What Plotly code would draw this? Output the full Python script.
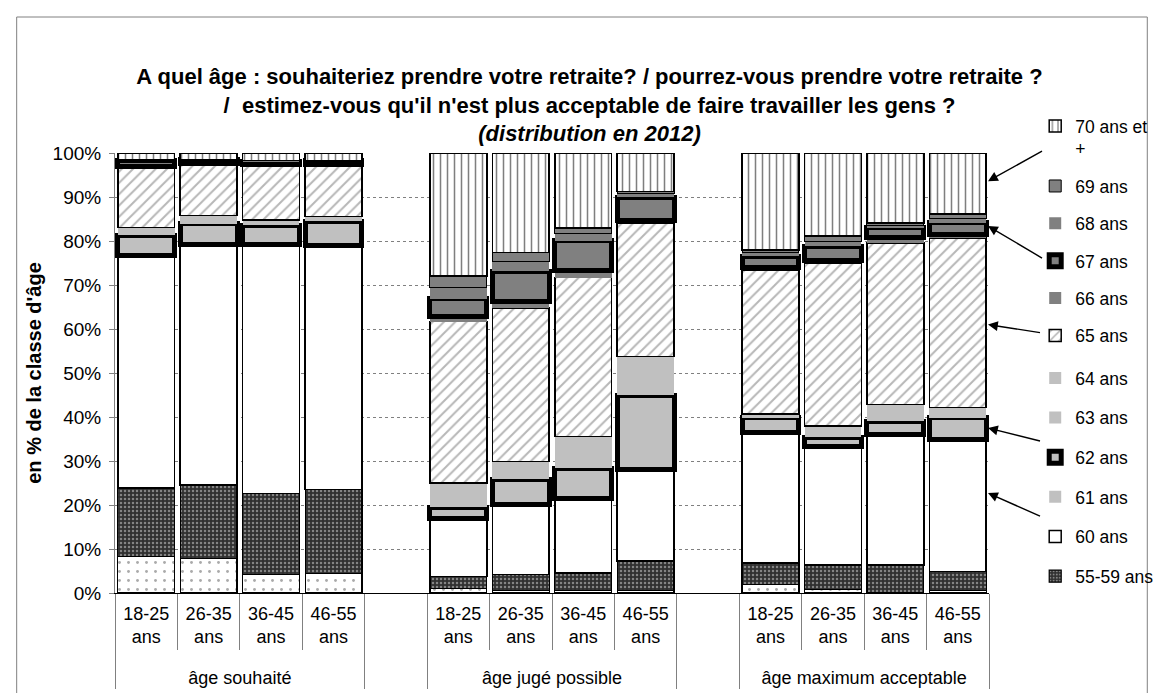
import plotly.graph_objects as go

# ---------------- data (percent of each age class) ----------------
groups = ["âge souhaité", "âge jugé possible", "âge maximum acceptable"]
ages = ["18-25<br>ans", "26-35<br>ans", "36-45<br>ans", "46-55<br>ans"]

# 12 bars: 4 age classes x 3 groups
moins_55 = [8.3, 7.8, 4.2, 4.5, 1.0, 0.5, 0.5, 0.5, 2.0, 0.8, 0.2, 0.5]
a55_59 = [15.6, 16.8, 18.4, 19.0, 2.8, 3.7, 4.0, 6.8, 4.8, 5.6, 6.2, 4.4]
a60 = [52.8, 54.6, 56.7, 55.5, 13.2, 16.0, 16.9, 20.7, 29.7, 26.9, 29.6, 29.9]
a61 = [0, 0, 0, 0, 0, 0, 0, 0, 0, 0, 0, 0]
a62 = [4.6, 4.7, 4.3, 5.5, 2.5, 5.6, 7.0, 16.9, 3.3, 2.1, 3.0, 5.0]
a63 = [1.0, 1.0, 0.6, 0.6, 2.5, 2.0, 3.8, 4.5, 0.5, 1.3, 2.0, 1.2]
a64 = [0.8, 0.9, 0.6, 0.5, 3.0, 2.1, 3.4, 4.4, 0.4, 1.2, 1.8, 1.2]
a65 = [13.6, 11.7, 12.5, 11.7, 36.7, 34.9, 36.1, 30.3, 32.6, 37.1, 36.7, 38.5]
a66 = [0.3, 0.2, 0.2, 0.2, 1.2, 1.5, 1.6, 0.5, 0.6, 0.5, 1.2, 0.7]
a67 = [1.2, 0.8, 0.6, 0.8, 4.0, 6.8, 6.8, 5.4, 2.6, 3.3, 2.3, 2.7]
a68 = [0.2, 0.0, 0.1, 0.0, 2.5, 2.2, 1.5, 0.7, 0.8, 1.2, 0.6, 1.0]
a69 = [0.1, 0.0, 0.1, 0.0, 2.6, 2.1, 1.4, 0.6, 0.7, 1.1, 0.5, 1.0]
a70 = [1.5, 1.5, 1.7, 1.7, 28.0, 22.6, 17.0, 8.7, 22.0, 18.9, 15.9, 13.9]

series_names = ["moins de 55 ans", "55-59 ans", "60 ans", "61 ans", "62 ans", "63 ans",
                "64 ans", "65 ans", "66 ans", "67 ans", "68 ans", "69 ans", "70 ans et<br>+"]
series_values = [moins_55, a55_59, a60, a61, a62, a63, a64, a65, a66, a67, a68, a69, a70]

title_lines = ["A quel âge : souhaiteriez prendre votre retraite? / pourrez-vous prendre votre retraite ?",
               "/  estimez-vous qu'il n'est plus acceptable de faire travailler les gens ?",
               "(distribution en 2012)"]
y_title = "en % de la classe d'âge"

# ---------------- styles ----------------
FONT = "Liberation Sans, Arial, sans-serif"
LG = "#C0C0C0"
DG = "#808080"
styles = {
    "moins de 55 ans": dict(color="white", pattern=dict(shape=".", fgcolor="#555555", bgcolor="white", size=9, solidity=0.08), lw=1.2, show=False, leg="legend2"),
    "55-59 ans": dict(color="#303030", pattern=dict(shape=".", fgcolor="#d8d8d8", bgcolor="#303030", size=4, solidity=0.3), lw=1.2, show=True, leg="legend2"),
    "60 ans": dict(color="white", pattern=None, lw=1.5, show=True, leg="legend2"),
    "61 ans": dict(color=LG, pattern=None, lw=0, show=True, leg="legend2"),
    "62 ans": dict(color=LG, pattern=None, lw=5, show=True, leg="legend2"),
    "63 ans": dict(color=LG, pattern=None, lw=0, show=True, leg="legend2"),
    "64 ans": dict(color=LG, pattern=None, lw=0, show=True, leg="legend2"),
    "65 ans": dict(color="white", pattern=dict(shape="/", fgcolor="#707070", bgcolor="white", size=8, solidity=0.25), lw=1.5, show=True, leg="legend"),
    "66 ans": dict(color=DG, pattern=None, lw=0, show=True, leg="legend"),
    "67 ans": dict(color=DG, pattern=None, lw=5, show=True, leg="legend"),
    "68 ans": dict(color=DG, pattern=None, lw=0, show=True, leg="legend"),
    "69 ans": dict(color=DG, pattern=None, lw=1, show=True, leg="legend"),
    "70 ans et<br>+": dict(color="white", pattern=dict(shape="|", fgcolor="black", bgcolor="white", size=7, solidity=0.22), lw=1.5, show=True, leg="legend"),
}

# multicategory x with an empty slot between groups
xg, xc = [], []
for gi, g in enumerate(groups):
    if gi > 0:
        xg.append(" " * gi)
        xc.append(" ")
    xg += [g] * len(ages)
    xc += [a + "<br> " for a in ages]


def expand(vals):
    out = []
    n = len(ages)
    for gi in range(len(groups)):
        if gi > 0:
            out.append(None)
        out += vals[gi * n:(gi + 1) * n]
    return out


fig = go.Figure()
for i, (name, vals) in enumerate(zip(series_names, series_values)):
    st = styles[name]
    marker = dict(color=st["color"],
                  line=dict(color="black", width=st["lw"]))
    if st["pattern"] is not None:
        marker["pattern"] = st["pattern"]
    fig.add_trace(go.Bar(
        x=[xg, xc], y=expand(vals), name=name, marker=marker,
        showlegend=st["show"], legend=st["leg"],
        legendgroup="g%d" % i, legendrank=1000 - i,
        hovertemplate="%{y:.1f}%<extra>" + name.replace("<br>", " ") + "</extra>",
    ))

# geometry of the plot area in pixels (for paper-coordinate decorations)
W, H = 1163, 693
L, R, T, B = 107, 167, 145, 108
pw, ph = W - L - R, H - T - B


def px(xp):
    return (xp - L) / pw


def py(yp):
    return (H - B - yp) / ph


legend_common = dict(x=px(1043), xanchor="left", yanchor="top",
                     traceorder="grouped", valign="top",
                     font=dict(family=FONT, size=17.5), bgcolor="rgba(0,0,0,0)")

fig.update_layout(
    width=W, height=H,
    margin=dict(l=L, r=R, t=T, b=B),
    paper_bgcolor="white", plot_bgcolor="white",
    barmode="stack", bargap=0.09,
    font=dict(family=FONT, size=18, color="black"),
    title=dict(
        text="<b>" + title_lines[0] + "<br>" + title_lines[1] + "<br><i>" + title_lines[2] + "</i></b>",
        x=0.5, xanchor="center", y=1 - 76 / H, yanchor="top",
        font=dict(family=FONT, size=22, color="black"),
    ),
    legend=dict(y=py(100), tracegroupgap=11.6, **legend_common),
    legend2=dict(y=py(352), tracegroupgap=13.9, **legend_common),
    showlegend=True,
)

fig.update_yaxes(
    range=[0, 100], dtick=10, ticksuffix="%",
    showgrid=True, gridcolor="#808080", griddash="dot", gridwidth=1,
    showline=True, linecolor="#808080", linewidth=1,
    ticks="outside", ticklen=5, tickcolor="#808080",
    tickfont=dict(family=FONT, size=19), ticklabelstandoff=4,
    title=dict(text="<b>" + y_title + "</b>", font=dict(family=FONT, size=20), standoff=5),
    zeroline=False,
)
fig.update_xaxes(
    type="multicategory",
    showline=True, linecolor="black", linewidth=1,
    ticks="outside", ticklen=56, tickcolor="#808080",
    showdividers=True, dividercolor="#808080", dividerwidth=1,
    tickfont=dict(family=FONT, size=18), ticklabelstandoff=4,
)

# arrows from the legend to the last bar
arrows = [(93.6, 54, -30), (83.4, 54, 32), (61.0, 52, 8), (37.5, 52, 13), (22.7, 52, 23)]
for yv, axp, ayp in arrows:
    fig.add_annotation(x=px(995), xref="paper", y=yv, yref="y", ax=axp, ay=ayp,
                       axref="pixel", ayref="pixel", showarrow=True, text="",
                       arrowhead=2, arrowsize=1.4, arrowwidth=1.4, arrowcolor="black",
                       xanchor="left")

# chart-area border
fig.add_shape(type="rect", xref="paper", yref="paper",
              x0=px(7), x1=px(1157), y0=py(686), y1=py(9),
              line=dict(color="#808080", width=1), fillcolor="rgba(0,0,0,0)", layer="below")

fig.write_html("out.html")
